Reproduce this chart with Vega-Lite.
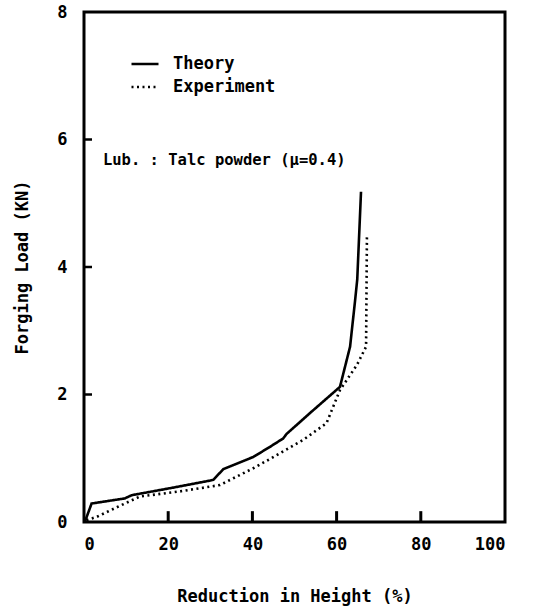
{
  "$schema": "https://vega.github.io/schema/vega-lite/v6.json",
  "width": 421,
  "height": 510,
  "autosize": "none",
  "padding": {"left": 84, "top": 12, "right": 33, "bottom": 89},
  "background": "white",
  "config": {
    "view": {"stroke": "black", "strokeWidth": 3},
    "axis": {
      "domain": false,
      "grid": false,
      "ticks": false,
      "labelFont": "DejaVu Sans Mono",
      "labelFontWeight": "bold",
      "labelFontSize": 17,
      "labelColor": "black",
      "titleFont": "DejaVu Sans Mono",
      "titleFontWeight": "bold",
      "titleFontSize": 17,
      "titleColor": "black"
    }
  },
  "datasets": {
    "curves": [
      {"series": "Theory", "i": 0, "x": 0.2, "y": 0.0},
      {"series": "Theory", "i": 1, "x": 1.8, "y": 0.29},
      {"series": "Theory", "i": 2, "x": 9.7, "y": 0.37},
      {"series": "Theory", "i": 3, "x": 11.3, "y": 0.42},
      {"series": "Theory", "i": 4, "x": 20.4, "y": 0.53},
      {"series": "Theory", "i": 5, "x": 26.8, "y": 0.61},
      {"series": "Theory", "i": 6, "x": 30.7, "y": 0.66},
      {"series": "Theory", "i": 7, "x": 33.1, "y": 0.83},
      {"series": "Theory", "i": 8, "x": 40.2, "y": 1.02},
      {"series": "Theory", "i": 9, "x": 44.2, "y": 1.18},
      {"series": "Theory", "i": 10, "x": 47.3, "y": 1.31},
      {"series": "Theory", "i": 11, "x": 48.1, "y": 1.38},
      {"series": "Theory", "i": 12, "x": 53.7, "y": 1.71},
      {"series": "Theory", "i": 13, "x": 60.8, "y": 2.12},
      {"series": "Theory", "i": 14, "x": 63.2, "y": 2.75},
      {"series": "Theory", "i": 15, "x": 64.4, "y": 3.48},
      {"series": "Theory", "i": 16, "x": 64.9, "y": 3.8},
      {"series": "Theory", "i": 17, "x": 65.8, "y": 5.18},
      {"series": "Experiment", "i": 0, "x": 0.6, "y": 0.03},
      {"series": "Experiment", "i": 1, "x": 3.0, "y": 0.08},
      {"series": "Experiment", "i": 2, "x": 9.7, "y": 0.29},
      {"series": "Experiment", "i": 3, "x": 13.3, "y": 0.4},
      {"series": "Experiment", "i": 4, "x": 22.8, "y": 0.48},
      {"series": "Experiment", "i": 5, "x": 32.3, "y": 0.58},
      {"series": "Experiment", "i": 6, "x": 41.0, "y": 0.87},
      {"series": "Experiment", "i": 7, "x": 52.1, "y": 1.29},
      {"series": "Experiment", "i": 8, "x": 57.6, "y": 1.55},
      {"series": "Experiment", "i": 9, "x": 60.8, "y": 2.07},
      {"series": "Experiment", "i": 10, "x": 64.8, "y": 2.46},
      {"series": "Experiment", "i": 11, "x": 67.0, "y": 2.75},
      {"series": "Experiment", "i": 12, "x": 67.2, "y": 4.47}
    ],
    "note": [
      {"x": 4.5, "y": 5.68, "label": "Lub. : Talc powder (μ=0.4)"}
    ],
    "xticks": [{"v": 20}, {"v": 40}, {"v": 60}, {"v": 80}],
    "yticks": [{"v": 2}, {"v": 4}, {"v": 6}]
  },
  "layer": [
    {
      "data": {"name": "xticks"},
      "mark": {"type": "rule", "strokeWidth": 3, "color": "black"},
      "encoding": {
        "x": {"field": "v", "type": "quantitative", "title": "Reduction in Height (%)"},
        "y": {"datum": 0, "type": "quantitative", "title": "Forging Load (KN)"},
        "y2": {"datum": 0.17}
      }
    },
    {
      "data": {"name": "yticks"},
      "mark": {"type": "rule", "strokeWidth": 2.5, "color": "black"},
      "encoding": {
        "y": {"field": "v", "type": "quantitative", "title": "Forging Load (KN)"},
        "x": {"datum": 0, "type": "quantitative", "title": "Reduction in Height (%)"},
        "x2": {"datum": 1.9}
      }
    },
    {
      "data": {"name": "curves"},
      "mark": {"type": "line", "color": "black", "strokeWidth": 2.6},
      "encoding": {
        "x": {
          "field": "x", "type": "quantitative",
          "scale": {"domain": [0, 100], "nice": false, "zero": false},
          "axis": {"values": [0, 20, 40, 60, 80, 100], "format": "d", "title": "Reduction in Height (%)",
                   "labelPadding": 14, "titlePadding": 36}
        },
        "y": {
          "field": "y", "type": "quantitative",
          "scale": {"domain": [0, 8], "nice": false},
          "axis": {"values": [0, 2, 4, 6, 8], "format": "d", "title": "Forging Load (KN)",
                   "labelPadding": 17, "titlePadding": 25}
        },
        "order": {"field": "i", "type": "quantitative"},
        "strokeDash": {
          "field": "series", "type": "nominal",
          "scale": {"domain": ["Theory", "Experiment"], "range": [[1, 0], [2, 3.5]]},
          "legend": {
            "title": null,
            "orient": "none",
            "legendX": 46,
            "legendY": 37,
            "symbolType": "stroke",
            "symbolSize": 729,
            "symbolStrokeWidth": 2.5,
            "symbolStrokeColor": "black",
            "labelFont": "DejaVu Sans Mono",
            "labelFontWeight": "bold",
            "labelFontSize": 17,
            "labelColor": "black",
            "labelOffset": 13,
            "rowPadding": -4,
            "padding": 0
          }
        }
      }
    },
    {
      "data": {"name": "note"},
      "mark": {"type": "text", "align": "left", "baseline": "middle", "font": "DejaVu Sans Mono", "fontWeight": "bold", "fontSize": 15.5, "color": "black"},
      "encoding": {
        "x": {"field": "x", "type": "quantitative", "title": "Reduction in Height (%)"},
        "y": {"field": "y", "type": "quantitative", "title": "Forging Load (KN)"},
        "text": {"field": "label"}
      }
    }
  ]
}
